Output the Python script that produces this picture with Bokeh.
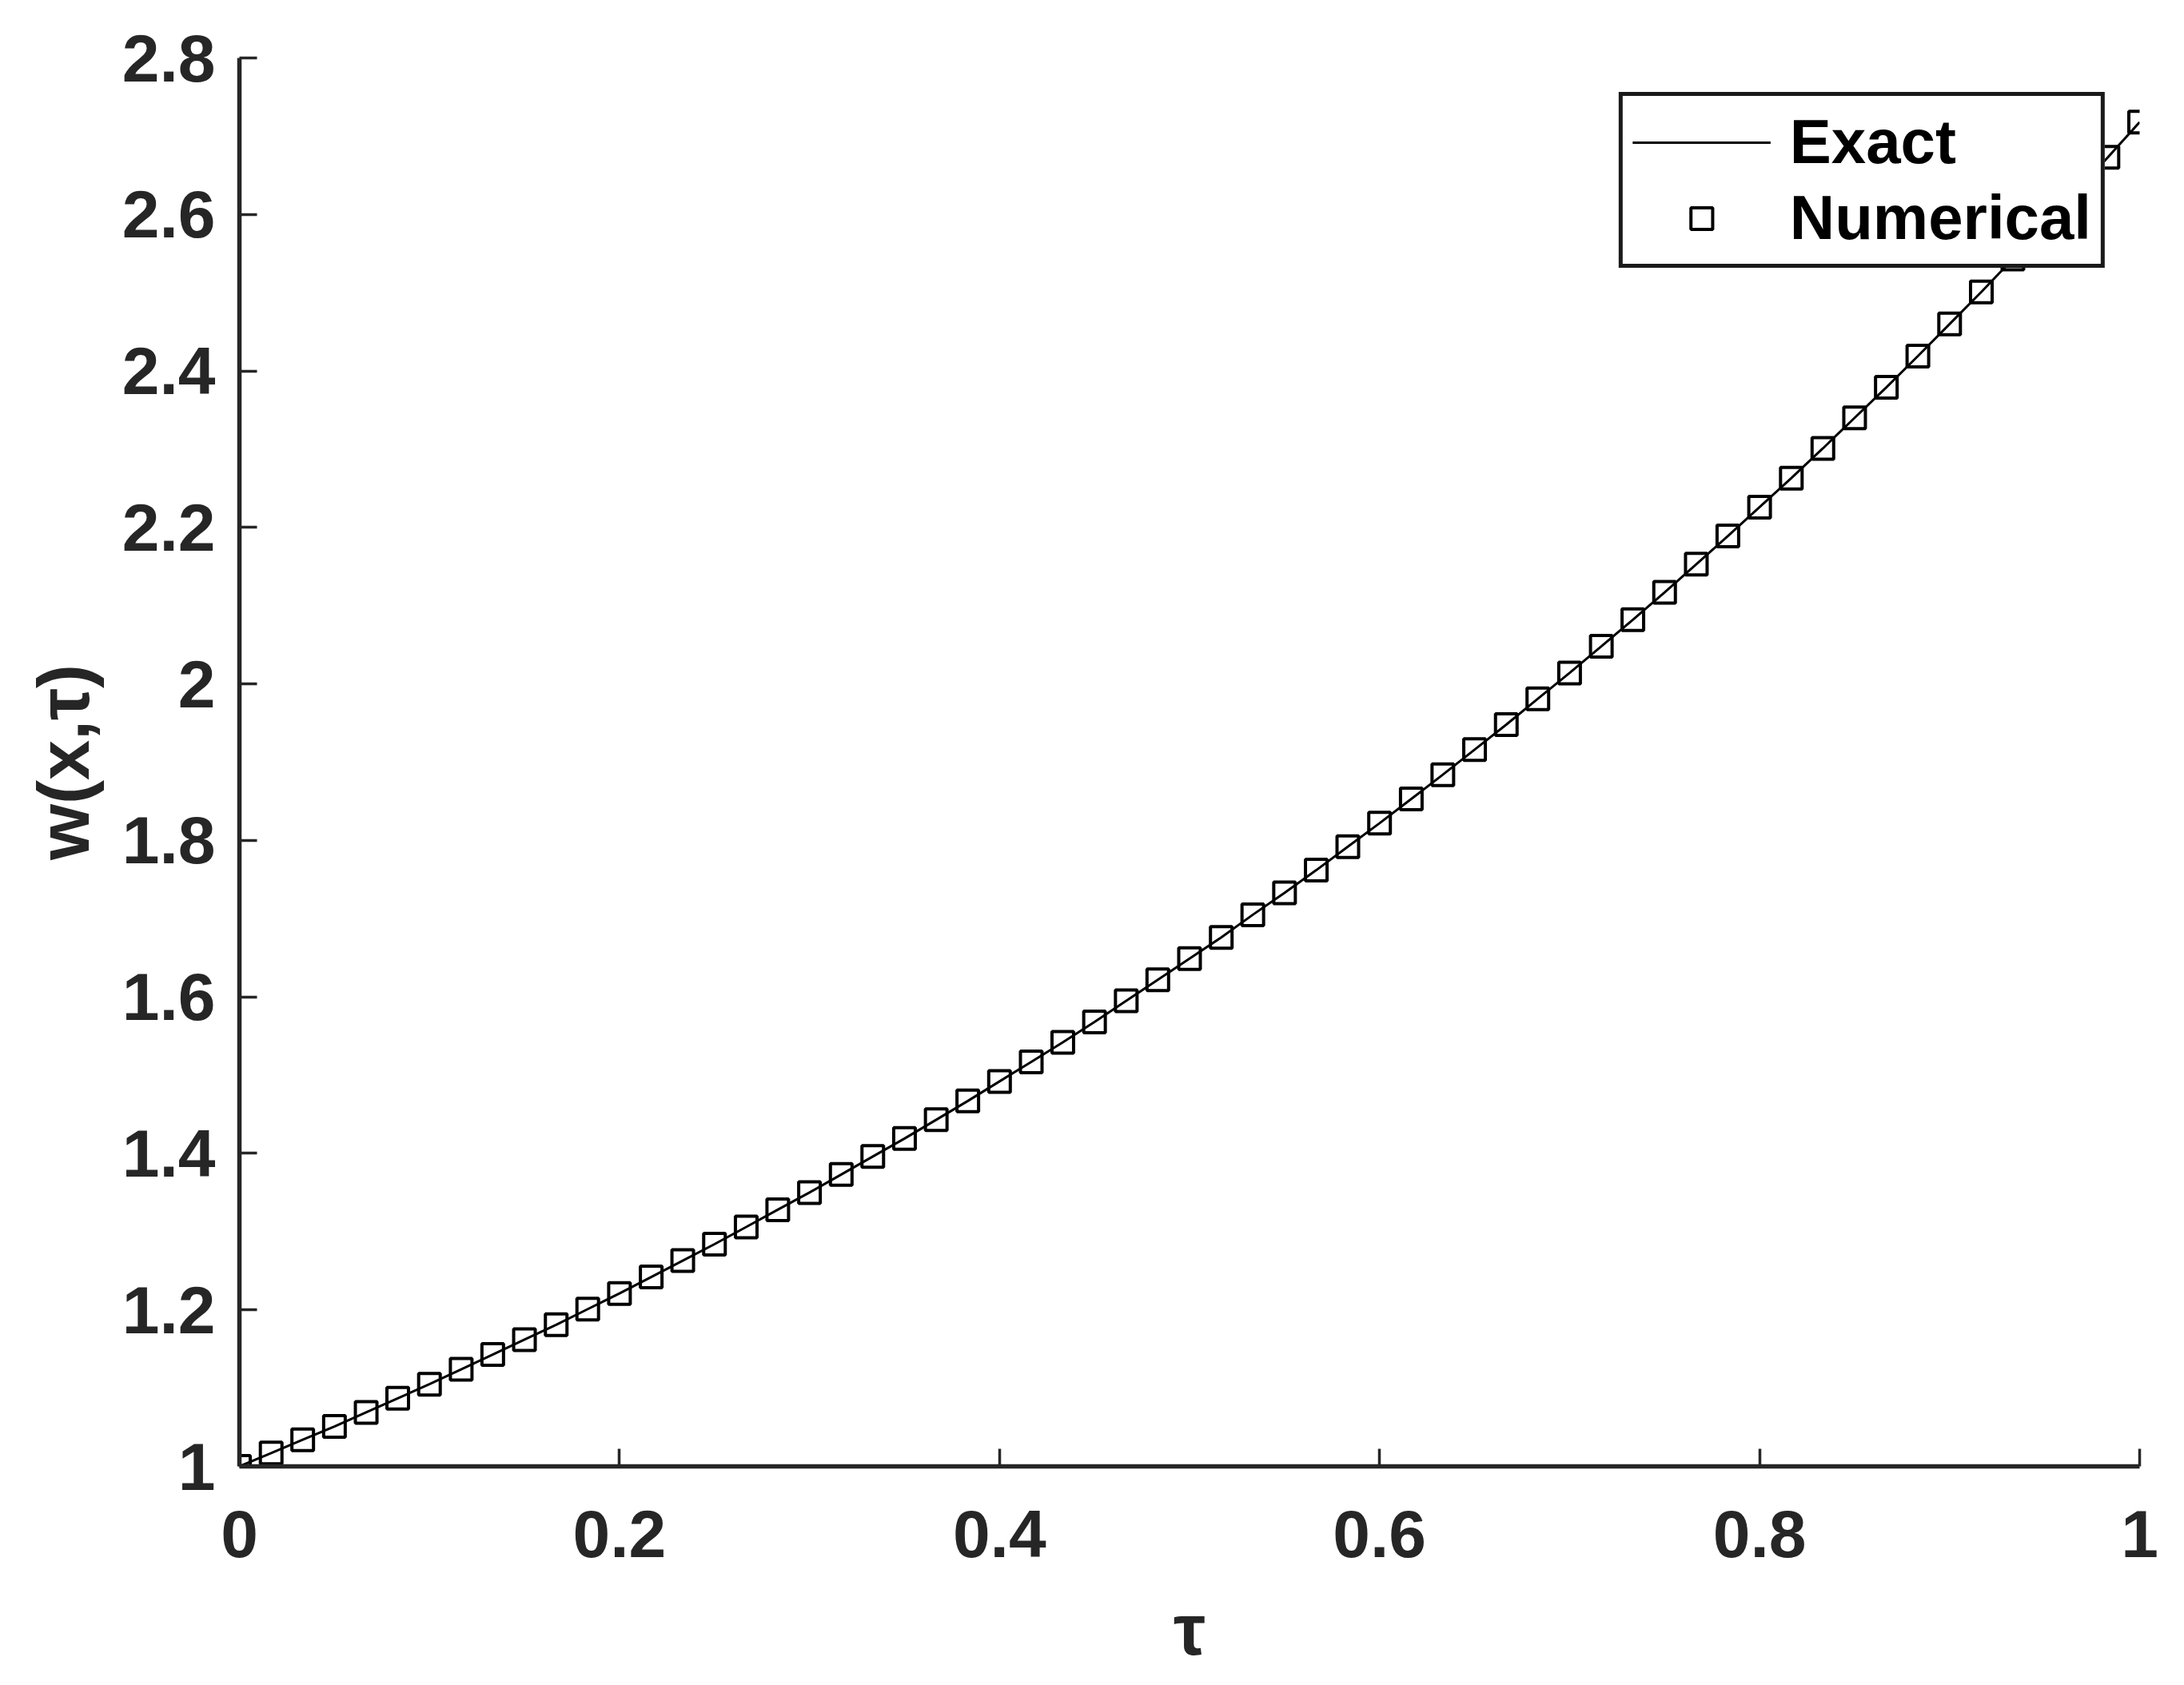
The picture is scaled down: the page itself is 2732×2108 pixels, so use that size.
from bokeh.plotting import figure
from bokeh.models import FixedTicker, Range1d, Legend, LegendItem
from bokeh.embed import file_html
from bokeh.resources import INLINE

# ---- data ----
tau = [0, 0.0167, 0.0333, 0.05, 0.0667, 0.0833, 0.1, 0.1167, 0.1333, 0.15,
       0.1667, 0.1833, 0.2, 0.2167, 0.2333, 0.25, 0.2667, 0.2833, 0.3, 0.3167,
       0.3333, 0.35, 0.3667, 0.3833, 0.4, 0.4167, 0.4333, 0.45, 0.4667, 0.4833,
       0.5, 0.5167, 0.5333, 0.55, 0.5667, 0.5833, 0.6, 0.6167, 0.6333, 0.65,
       0.6667, 0.6833, 0.7, 0.7167, 0.7333, 0.75, 0.7667, 0.7833, 0.8, 0.8167,
       0.8333, 0.85, 0.8667, 0.8833, 0.9, 0.9167, 0.9333, 0.95, 0.9667, 0.9833,
       1.0]
w_exact = [1.000, 1.017, 1.034, 1.051, 1.069, 1.087, 1.105, 1.124, 1.143, 1.162,
           1.181, 1.201, 1.221, 1.242, 1.263, 1.284, 1.306, 1.328, 1.350, 1.373,
           1.396, 1.419, 1.443, 1.467, 1.492, 1.517, 1.542, 1.568, 1.595, 1.622,
           1.649, 1.676, 1.705, 1.733, 1.762, 1.792, 1.822, 1.853, 1.884, 1.916,
           1.948, 1.981, 2.014, 2.048, 2.082, 2.117, 2.153, 2.189, 2.226, 2.263,
           2.301, 2.340, 2.379, 2.419, 2.460, 2.501, 2.543, 2.586, 2.629, 2.673,
           2.718]
w_numerical = [1.000, 1.017, 1.034, 1.051, 1.069, 1.087, 1.105, 1.124, 1.143, 1.162,
               1.181, 1.201, 1.221, 1.242, 1.263, 1.284, 1.306, 1.328, 1.350, 1.373,
               1.396, 1.419, 1.443, 1.467, 1.492, 1.517, 1.542, 1.568, 1.595, 1.622,
               1.649, 1.676, 1.705, 1.733, 1.762, 1.792, 1.822, 1.853, 1.884, 1.916,
               1.948, 1.981, 2.014, 2.048, 2.082, 2.117, 2.153, 2.189, 2.226, 2.263,
               2.301, 2.340, 2.379, 2.419, 2.460, 2.501, 2.543, 2.586, 2.629, 2.673,
               2.718]
x_ticks = [0, 0.2, 0.4, 0.6, 0.8, 1]
x_tick_labels = ["0", "0.2", "0.4", "0.6", "0.8", "1"]
y_ticks = [1, 1.2, 1.4, 1.6, 1.8, 2, 2.2, 2.4, 2.6, 2.8]
y_tick_labels = ["1", "1.2", "1.4", "1.6", "1.8", "2", "2.2", "2.4", "2.6", "2.8"]
series_names = ["Exact", "Numerical"]

FONT = "Liberation Sans"
AX = "#262626"

p = figure(width=2716, height=2092, output_backend="svg", toolbar_location=None,
           x_range=Range1d(0, 1), y_range=Range1d(1, 2.8),
           min_border_left=299, min_border_right=40,
           min_border_top=72, min_border_bottom=258)
p.background_fill_color = "white"
p.border_fill_color = "white"
p.outline_line_color = None
p.grid.visible = False

line_r = p.line(tau, w_exact, line_color="black", line_width=3)
pts_r = p.scatter(tau, w_numerical, marker="square", size=27, fill_color=None,
                  line_color="black", line_width=4)

for ax in (p.xaxis[0], p.yaxis[0]):
    ax.axis_line_color = AX
    ax.axis_line_width = 5.5
    ax.major_tick_line_color = AX
    ax.major_tick_line_width = 3.5
    ax.major_tick_in = 22
    ax.major_tick_out = 0
    ax.minor_tick_line_color = None
    ax.major_label_text_font = FONT
    ax.major_label_text_font_style = "bold"
    ax.major_label_text_font_size = "84px"
    ax.major_label_text_color = AX
    ax.axis_label_text_font = FONT
    ax.axis_label_text_font_style = "bold"
    ax.axis_label_text_font_size = "90px"
    ax.axis_label_text_color = AX

p.xaxis.ticker = FixedTicker(ticks=x_ticks)
p.xaxis.major_label_overrides = dict(zip(x_ticks, x_tick_labels))
p.yaxis.ticker = FixedTicker(ticks=y_ticks)
p.yaxis.major_label_overrides = dict(zip(y_ticks, y_tick_labels))
p.xaxis.major_label_standoff = 55
p.yaxis.major_label_standoff = 30
p.xaxis.axis_label = "τ"
p.yaxis.axis_label = "w(x,τ)"
p.xaxis.axis_label_standoff = 38
p.yaxis.axis_label_standoff = 20

legend = Legend(items=[LegendItem(label=series_names[0], renderers=[line_r]),
                       LegendItem(label=series_names[1], renderers=[pts_r])],
                location="top_right")
legend.margin = 43
legend.padding = 12
legend.spacing = 4
legend.glyph_width = 173
legend.glyph_height = 68
legend.label_height = 82
legend.label_standoff = 24
legend.label_text_font = FONT
legend.label_text_font_style = "bold"
legend.label_text_font_size = "78px"
legend.label_text_color = "black"
legend.border_line_color = "#1a1a1a"
legend.border_line_alpha = 1.0
legend.border_line_width = 5
legend.background_fill_color = "white"
legend.background_fill_alpha = 1.0
p.add_layout(legend)

open("out.html", "w").write(file_html(p, INLINE))
